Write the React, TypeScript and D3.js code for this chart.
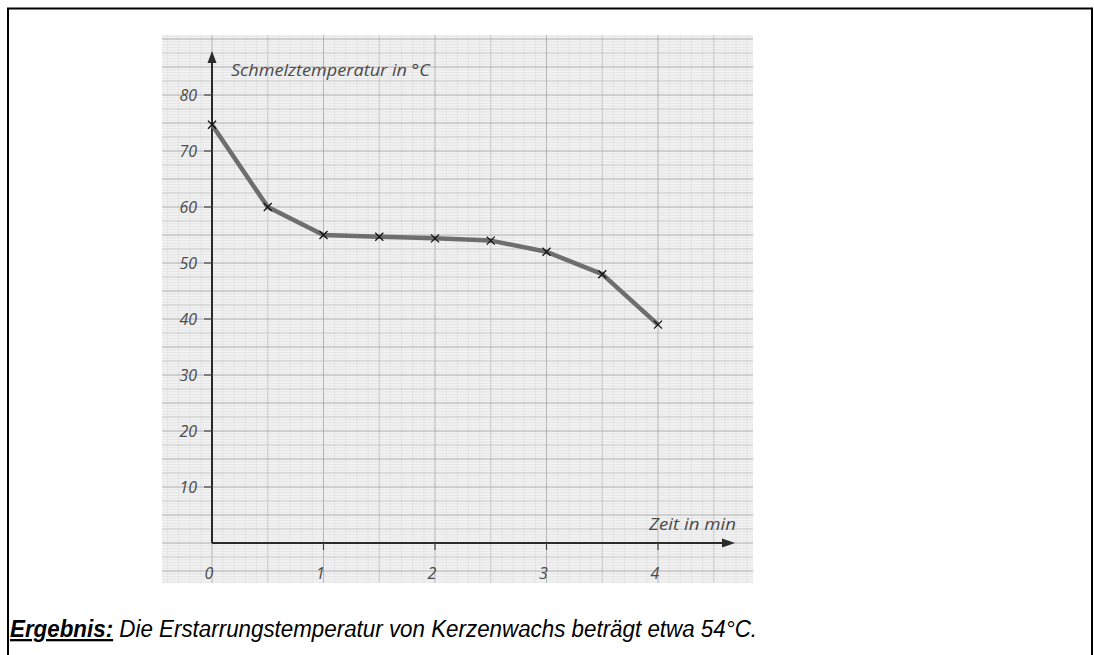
import React from "react";
import * as d3 from "d3";

const times = [0, 0.5, 1, 1.5, 2, 2.5, 3, 3.5, 4];
const temps = [74.7, 60, 55, 54.7, 54.4, 54.0, 52.0, 48.0, 39.0];
const yTicks = [10, 20, 30, 40, 50, 60, 70, 80];
const xTicks = [0, 1, 2, 3, 4];
const yTitle = "Schmelztemperatur in °C";
const xTitle = "Zeit in min";
const resultLabel = "Ergebnis:";
const resultText = " Die Erstarrungstemperatur von Kerzenwachs beträgt etwa 54°C.";

export default function App() {
  const W = 1094, H = 655;
  const paper = { x0: 162, x1: 753, y0: 35, y1: 583 };
  const x = d3.scaleLinear().domain([0, 4]).range([212, 658]);
  const y = d3.scaleLinear().domain([0, 80]).range([543, 95]);

  // grid: 1 mm = 0.1 min horizontally, 0.5 °C vertically
  const tMin = Math.ceil(x.invert(paper.x0) / 0.1);
  const tMax = Math.floor(x.invert(paper.x1) / 0.1);
  const vLines: { p: number; k: number }[] = [];
  for (let k = tMin; k <= tMax; k++) vLines.push({ p: x(k * 0.1), k });
  const cMin = Math.ceil(y.invert(paper.y1) / 0.5);
  const cMax = Math.floor(y.invert(paper.y0) / 0.5);
  const hLines: { p: number; k: number }[] = [];
  for (let k = cMin; k <= cMax; k++) hLines.push({ p: y(k * 0.5), k });

  const style = (k: number) => {
    const m = ((k % 10) + 10) % 10;
    if (m === 0) return { s: "#acacac", w: 1 };
    if (m === 5) return { s: "#c4c4c4", w: 1 };
    return { s: "#dedede", w: 0.6 };
  };

  const line = d3
    .line<number>()
    .x((_, i) => x(times[i]))
    .y((d) => y(d));

  const hand = "'Open Sans', 'DejaVu Sans', sans-serif";
  const axisColor = "#2a2a2a";
  const labelColor = "#4a4a4a";
  const x0 = x(0), y0 = y(0);

  return (
    <svg width={W} height={H} style={{ position: "absolute", left: 0, top: 0, background: "#fff" }}>
      <rect x={8} y={8.5} width={1084} height={700} fill="none" stroke="#000" strokeWidth={2} />
      <rect x={paper.x0} y={paper.y0} width={paper.x1 - paper.x0} height={paper.y1 - paper.y0} fill="#f2f2f2" />
      {vLines.map((l) => {
        const st = style(l.k);
        return <line key={"v" + l.k} x1={l.p} x2={l.p} y1={paper.y0} y2={paper.y1} stroke={st.s} strokeWidth={st.w} />;
      })}
      {hLines.map((l) => {
        const st = style(l.k);
        return <line key={"h" + l.k} x1={paper.x0} x2={paper.x1} y1={l.p} y2={l.p} stroke={st.s} strokeWidth={st.w} />;
      })}

      {/* axes */}
      <line x1={x0} x2={x0} y1={y0} y2={60} stroke={axisColor} strokeWidth={2} />
      <path d={`M${x0 - 4.5},${63} L${x0},${51} L${x0 + 4.5},${63} Z`} fill={axisColor} />
      <line x1={x0} x2={724} y1={y0} y2={y0} stroke={axisColor} strokeWidth={2} />
      <path d={`M${722},${y0 - 4.5} L${735},${y0} L${722},${y0 + 4.5} Z`} fill={axisColor} />

      {yTicks.map((t) => (
        <g key={"yt" + t}>
          <line x1={x0 - 8} x2={x0} y1={y(t)} y2={y(t)} stroke="#444" strokeWidth={1.2} />
          <text x={197} y={y(t) + 6} textAnchor="end" fontFamily={hand} fontStyle="italic" fontSize={16} fill={labelColor}>
            {t}
          </text>
        </g>
      ))}
      {xTicks.map((t) => (
        <g key={"xt" + t}>
          {t > 0 && <line x1={x(t)} x2={x(t)} y1={y0} y2={y0 + 7} stroke="#444" strokeWidth={1.2} />}
          <text x={x(t) - 3} y={579} textAnchor="middle" fontFamily={hand} fontStyle="italic" fontSize={16} fill={labelColor}>
            {t}
          </text>
        </g>
      ))}

      <text x={231} y={76} fontFamily={hand} fontStyle="italic" fontSize={17} fill={labelColor} textLength={199} lengthAdjust="spacingAndGlyphs">
        {yTitle}
      </text>
      <text x={649} y={530} fontFamily={hand} fontStyle="italic" fontSize={17} fill={labelColor} textLength={87} lengthAdjust="spacingAndGlyphs">
        {xTitle}
      </text>

      {/* data */}
      <path d={line(temps) || ""} fill="none" stroke="#6e6e6e" strokeWidth={4.5} strokeLinejoin="round" />
      {temps.map((v, i) => {
        const cx = x(times[i]), cy = y(v), r = 4;
        return (
          <path key={"m" + i} d={`M${cx - r},${cy - r}L${cx + r},${cy + r}M${cx - r},${cy + r}L${cx + r},${cy - r}`} stroke="#111" strokeWidth={1.3} />
        );
      })}

      <text x={10} y={637} fontFamily="'Liberation Sans', Arial, sans-serif" fontStyle="italic" fontSize={23} fill="#000" textLength={747} lengthAdjust="spacingAndGlyphs">
        <tspan fontWeight="bold" textDecoration="underline">{resultLabel}</tspan>
        <tspan>{resultText}</tspan>
      </text>
    </svg>
  );
}
